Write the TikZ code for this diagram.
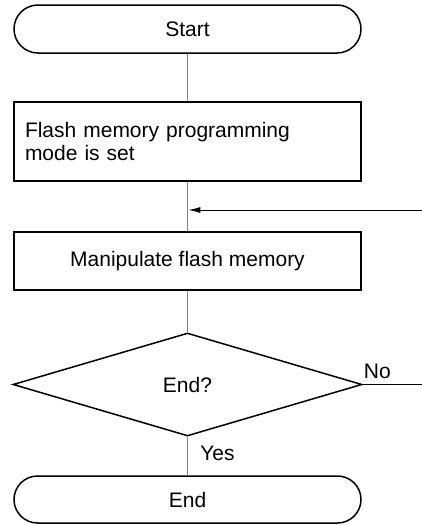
\documentclass[tikz,border=0pt]{standalone}
\usepackage{fontspec}
\setmainfont{Liberation Sans}
\usetikzlibrary{shapes.misc,shapes.geometric,arrows.meta}
\begin{document}
\begin{tikzpicture}[x=1pt,y=-1pt,
  every node/.style={font=\fontsize{21}{23.5}\selectfont},
  term/.style={draw, line width=1.5pt, rounded rectangle, minimum width=347pt, inner sep=0pt},
  procbox/.style={draw, line width=1.5pt, rectangle, minimum width=347pt, inner sep=0pt},
  decis/.style={draw, line width=1.5pt, diamond, minimum width=349pt, minimum height=103pt, inner sep=0pt},
  flow/.style={draw=black!50, line width=1.3pt},
  thin/.style={draw=black, line width=1pt},
  lbl/.style={inner sep=0pt}]
\useasboundingbox (0,0) rectangle (422,525);
\node[term, minimum height=48pt] (start) at (187.5,29) {Start};
\node[procbox, minimum height=79pt, text width=325pt, align=left, inner xsep=11pt] (set) at (187.5,141.5) {Flash memory programming\\mode is set};
\node[procbox, minimum height=58pt] (manip) at (187.5,261) {Manipulate flash memory};
\node[decis] (dec) at (187.5,384.5) {End?};
\node[term, minimum height=47pt] (end) at (187.5,499.5) {End};
\coordinate (join) at (187.5,210);
\coordinate (inright) at (422,210);
\coordinate (noright) at (422,384.5);
\draw[flow] (start.south) -- (set.north);
\draw[flow] (set.south) -- (manip.north);
\draw[flow] (manip.south) -- (dec.north);
\draw[flow] (dec.south) -- (end.north);
\draw[thin, -{Latex[length=12pt,width=6pt]}] (inright) -- ([xshift=0.8pt]join);
\draw[thin] (dec.east) -- (noright);
\node[lbl, anchor=south west] (no) at ([xshift=1pt,yshift=6pt]dec.east) {No};
\node[lbl] (yes) at (217.5,453) {Yes};
\end{tikzpicture}
\end{document}
